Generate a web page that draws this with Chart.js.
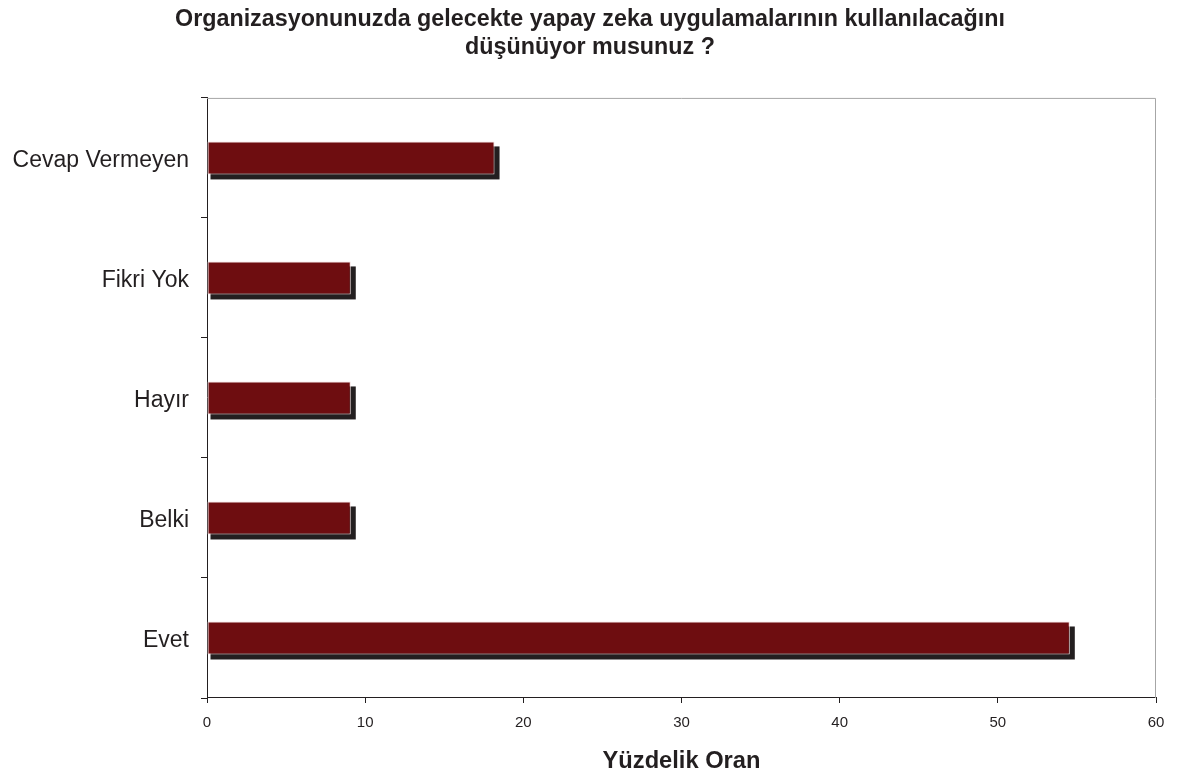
<!DOCTYPE html>
<html lang="tr">
<head>
<meta charset="utf-8">
<title>Yapay zeka anketi</title>
<script src="https://cdn.jsdelivr.net/npm/chart.js@4.4.0/dist/chart.umd.min.js"></script>
<style>
  html, body { margin: 0; padding: 0; background: #fff; }
  #wrap { width: 1177px; height: 778px; position: relative; }
</style>
</head>
<body>
<div id="wrap"><canvas id="anketChart"></canvas></div>
<script>
// Kategoriler (yukaridan asagiya)
const kategoriler = ['Cevap Vermeyen', 'Fikri Yok', 'Hayır', 'Belki', 'Evet'];
// Yuzdelik oranlar
const oranlar = [18.18, 9.09, 9.09, 9.09, 54.55];
// X ekseni
const xMin = 0;
const xMax = 60;
const xAdim = 10;

const baslik = ['Organizasyonunuzda gelecekte yapay zeka uygulamalarının kullanılacağını', 'düşünüyor musunuz ?'];

// gri cerceve (ust ve sag)
const cercevePlugin = {
    id: 'cerceve',
    afterLayout(chart) {
        // uzun etiketler kesilmesin diye y ekseni kutusunu sola kadar uzat
        chart.scales.y.left = 0;
    },
    afterDraw(chart) {
        const { ctx, chartArea: a } = chart;
        ctx.save();
        ctx.strokeStyle = '#a6a6a6';
        ctx.lineWidth = 1;
        ctx.beginPath();
        ctx.moveTo(a.left, a.top + 0.5);
        ctx.lineTo(a.right - 0.5, a.top + 0.5);
        ctx.lineTo(a.right - 0.5, a.bottom);
        ctx.stroke();
        ctx.restore();
    }
};

// cubuklarin golgesi: her cubugun konumundan kaydirilmis koyu dikdortgen
const golgePlugin = {
    id: 'golge',
    beforeDatasetsDraw(chart) {
        const ctx = chart.ctx;
        const meta = chart.getDatasetMeta(0);
        ctx.save();
        ctx.fillStyle = '#231f20';
        meta.data.forEach(function (bar) {
            const p = bar.getProps(['x', 'y', 'base', 'height'], true);
            ctx.fillRect(p.base + 3, p.y - p.height / 2 + 5, p.x - p.base + 2, p.height);
        });
        ctx.restore();
    }
};

const ctx = document.getElementById('anketChart').getContext('2d');
new Chart(ctx, {
    type: 'bar',
    data: {
        labels: kategoriler,
        datasets: [{
            data: oranlar,
            backgroundColor: '#6e0d10',
            borderColor: '#f2dede',
            borderWidth: 1,
            borderSkipped: false,
            barPercentage: 0.55,
            categoryPercentage: 0.5
        }]
    },
    options: {
        indexAxis: 'y',
        responsive: true,
        maintainAspectRatio: false,
        animation: false,
        layout: { padding: { left: 24, right: 21, top: 0, bottom: 0 } },
        plugins: {
            legend: { display: false },
            tooltip: { enabled: false },
            title: {
                display: true,
                text: baslik,
                color: '#231f20',
                font: { family: 'Liberation Sans, Arial, sans-serif', size: 23.3, weight: 'bold', lineHeight: 1.2 },
                padding: { top: 6, bottom: 36 }
            }
        },
        scales: {
            x: {
                min: xMin,
                max: xMax,
                ticks: {
                    stepSize: xAdim,
                    color: '#231f20',
                    padding: 11,
                    font: { family: 'Liberation Sans, Arial, sans-serif', size: 15 }
                },
                grid: { drawOnChartArea: false, color: '#231f20', tickLength: 5 },
                border: { color: '#231f20', width: 1 },
                title: {
                    display: true,
                    text: 'Yüzdelik Oran',
                    color: '#231f20',
                    font: { family: 'Liberation Sans, Arial, sans-serif', size: 23.7, weight: 'bold' },
                    padding: { top: 0, bottom: 2 }
                },
                afterFit(scale) { scale.height = 80; }
            },
            y: {
                ticks: {
                    color: '#231f20',
                    padding: 12,
                    labelOffset: 3,
                    font: { family: 'Liberation Sans, Arial, sans-serif', size: 23 }
                },
                grid: { drawOnChartArea: false, color: '#231f20', tickLength: 6, offset: true },
                border: { color: '#231f20', width: 1 },
                afterFit(scale) { scale.width = 183; }
            }
        }
    },
    plugins: [golgePlugin, cercevePlugin]
});
</script>
</body>
</html>
